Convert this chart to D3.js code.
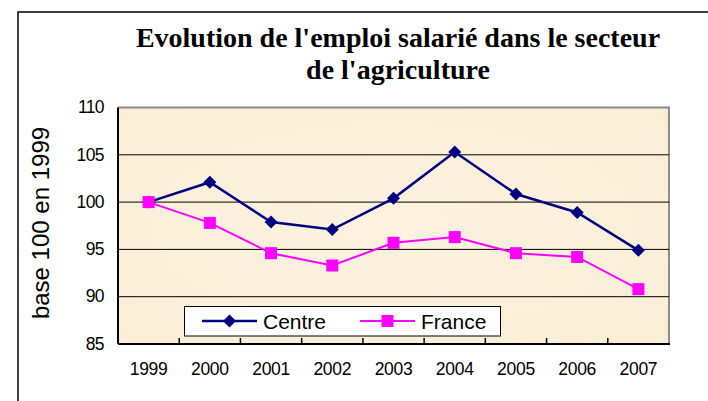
<!DOCTYPE html>
<html><head><meta charset="utf-8">
<script src="https://cdn.jsdelivr.net/npm/d3@7"></script>
<style>body{margin:0;background:#fff}svg{display:block}</style>
</head><body>
<script>
const years = ["1999","2000","2001","2002","2003","2004","2005","2006","2007"];
const centre = [100, 102.1, 97.9, 97.1, 100.4, 105.3, 100.85, 98.9, 94.9];
const france = [100, 97.8, 94.6, 93.3, 95.7, 96.3, 94.6, 94.2, 90.8];
const yTicks = [85, 90, 95, 100, 105, 110];
const titleLines = ["Evolution de l'emploi salarié dans le secteur", "de l'agriculture"];
const yTitle = "base 100 en 1999";
const seriesNames = ["Centre", "France"];

const W = 708, H = 401;
const svg = d3.select("body").append("svg").attr("width", W).attr("height", H);

// outer frame
svg.append("path").attr("d", `M18,${H} L18,12 L${W},12`).attr("fill","none").attr("stroke","#000").attr("stroke-width",1.5);

const L = 118, R = 669, T = 107.5, B = 344;
const x = d3.scaleBand().domain(years).range([L, R]);
const y = d3.scaleLinear().domain([85, 110]).range([B, T]);

const defs = svg.append("defs");
const grad = defs.append("radialGradient").attr("id","bg").attr("cx","0.5").attr("cy","0.5").attr("r","0.75");
grad.append("stop").attr("offset","0").attr("stop-color","#FCF2DF");
grad.append("stop").attr("offset","1").attr("stop-color","#F9EDD5");

svg.append("rect").attr("x",L).attr("y",T).attr("width",R-L).attr("height",B-T).attr("fill","url(#bg)");
// plot border top/right gray
svg.append("path").attr("d",`M${L},${T} L${R},${T} L${R},${B}`).attr("fill","none").attr("stroke","#8c8c8c").attr("stroke-width",2);

// gridlines
svg.append("g").selectAll("line").data(yTicks.filter(d => d > 85 && d < 110)).join("line")
  .attr("x1",L).attr("x2",R).attr("y1",d=>y(d)).attr("y2",d=>y(d))
  .attr("stroke","#000").attr("stroke-width",1);

// x axis with inner ticks between categories
const xAxis = d3.axisBottom(x).tickSize(0).tickPadding(0);
const gx = svg.append("g").attr("transform",`translate(0,${B})`).call(xAxis);
gx.select(".domain").remove();
gx.selectAll("text").attr("y", 31).attr("dy",0).attr("font-family","Liberation Sans, Arial, sans-serif").attr("font-size","17.5px").attr("fill","#000").attr("letter-spacing","-0.3px");
svg.append("g").selectAll("line").data(years.slice(1)).join("line")
  .attr("x1",d=>x(d)).attr("x2",d=>x(d)).attr("y1",B).attr("y2",B-6)
  .attr("stroke","#000").attr("stroke-width",1.5);
svg.append("line").attr("x1",L).attr("x2",R+1).attr("y1",B).attr("y2",B).attr("stroke","#000").attr("stroke-width",2);

// y axis
const yAxis = d3.axisLeft(y).tickValues(yTicks).tickSize(0).tickPadding(14);
const gy = svg.append("g").attr("transform",`translate(${L},0)`).call(yAxis);
gy.select(".domain").remove();
gy.selectAll("text").attr("font-family","Liberation Sans, Arial, sans-serif").attr("font-size","17.5px").attr("fill","#000").attr("letter-spacing","-0.6px").attr("dy","0.3em");
svg.append("line").attr("x1",L).attr("x2",L).attr("y1",T).attr("y2",B).attr("stroke","#000").attr("stroke-width",2);

// lines
const line = d3.line().x((d,i)=>x(years[i])+x.bandwidth()/2).y(d=>y(d));
svg.append("path").datum(centre).attr("d",line).attr("fill","none").attr("stroke","#000080").attr("stroke-width",2.5);
svg.append("path").datum(france).attr("d",line).attr("fill","none").attr("stroke","#FF00FF").attr("stroke-width",2);

const diamond = s => `M0,${-s} L${s},0 L0,${s} L${-s},0 Z`;
svg.append("g").selectAll("path").data(centre).join("path")
  .attr("transform",(d,i)=>`translate(${x(years[i])+x.bandwidth()/2},${y(d)})`)
  .attr("d",diamond(6.5)).attr("fill","#000080");
svg.append("g").selectAll("rect").data(france).join("rect")
  .attr("x",(d,i)=>x(years[i])+x.bandwidth()/2-6).attr("y",d=>y(d)-6)
  .attr("width",12).attr("height",12).attr("fill","#FF00FF");

// legend
const lg = svg.append("g");
lg.append("rect").attr("x",184.5).attr("y",306.5).attr("width",316).attr("height",29.5).attr("fill","#fff").attr("stroke","#000").attr("stroke-width",1);
lg.append("line").attr("x1",202).attr("x2",257).attr("y1",321).attr("y2",321).attr("stroke","#000080").attr("stroke-width",2.5);
lg.append("path").attr("transform","translate(229.5,321)").attr("d",diamond(6.5)).attr("fill","#000080");
lg.append("text").attr("x",263).attr("y",328.5).text(seriesNames[0]).attr("font-family","Liberation Sans, Arial, sans-serif").attr("font-size","21px").attr("fill","#000");
lg.append("line").attr("x1",360).attr("x2",415).attr("y1",321).attr("y2",321).attr("stroke","#FF00FF").attr("stroke-width",2);
lg.append("rect").attr("x",381.5).attr("y",315).attr("width",12).attr("height",12).attr("fill","#FF00FF");
lg.append("text").attr("x",421).attr("y",328.5).text(seriesNames[1]).attr("font-family","Liberation Sans, Arial, sans-serif").attr("font-size","21px").attr("fill","#000");

// title
svg.append("g").selectAll("text").data(titleLines).join("text")
  .attr("x",398).attr("y",(d,i)=>46.5 + i*32).attr("text-anchor","middle")
  .attr("font-family","Liberation Serif, Times New Roman, serif").attr("font-weight","bold")
  .attr("font-size","28px").attr("fill","#000").text(d=>d);

// y title
svg.append("text").attr("transform","translate(49,223) rotate(-90)").attr("text-anchor","middle")
  .attr("font-family","Liberation Sans, Arial, sans-serif").attr("font-size","24px").attr("fill","#000").text(yTitle);
</script>
</body></html>
